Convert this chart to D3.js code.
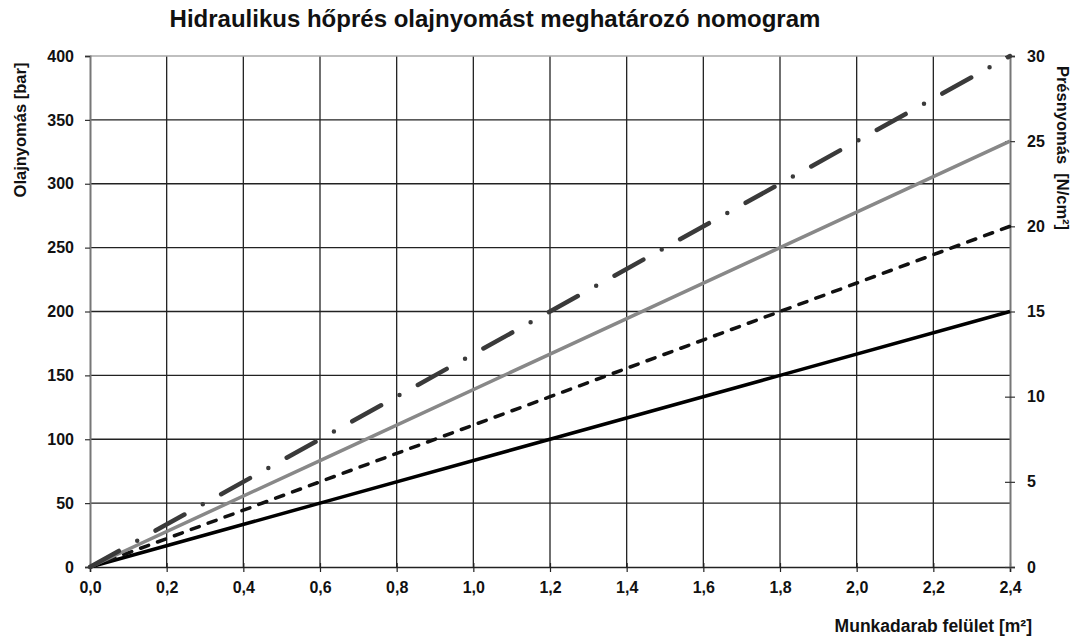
<!DOCTYPE html>
<html>
<head>
<meta charset="utf-8">
<script src="https://cdn.jsdelivr.net/npm/d3@7"></script>
<style>
  body { margin: 0; background: #fff; }
  text { font-family: "Liberation Sans", Arial, sans-serif; font-weight: bold; fill: #111; }
</style>
</head>
<body>
<div id="chart"></div>
<script>
// data
const area = [0, 0.6, 1.2, 1.8, 2.4];             // Munkadarab felület [m²]
const line15 = [0, 50, 100, 150, 200];            // 15 N/cm²
const line20 = [0, 66.7, 133.3, 200, 266.7];      // 20 N/cm²
const line25 = [0, 83.3, 166.7, 250, 333.3];      // 25 N/cm²
const line30 = [0, 100, 200, 300, 400];           // 30 N/cm²
const xTicks = [0, 0.2, 0.4, 0.6, 0.8, 1.0, 1.2, 1.4, 1.6, 1.8, 2.0, 2.2, 2.4];
const yTicks = [0, 50, 100, 150, 200, 250, 300, 350, 400];
const y2Ticks = [0, 5, 10, 15, 20, 25, 30];

const W = 1073, H = 639;
const margin = { top: 56, right: 63, bottom: 72, left: 90 };
const width = W - margin.left - margin.right;
const height = H - margin.top - margin.bottom;

const svg = d3.select('#chart').append('svg')
  .attr('width', W).attr('height', H);

const g = svg.append('g')
  .attr('transform', `translate(${margin.left},${margin.top})`);

const x = d3.scaleLinear().domain([0, 2.4]).range([0, width]);
const y = d3.scaleLinear().domain([0, 400]).range([height, 0]);
const y2 = d3.scaleLinear().domain([0, 30]).range([height, 0]);

const comma = v => d3.format('.1f')(v).replace('.', ',');

// grid
g.append('g').selectAll('line')
  .data(xTicks.filter(d => d > 0 && d < 2.4))
  .enter().append('line')
  .attr('x1', d => x(d)).attr('x2', d => x(d))
  .attr('y1', 0).attr('y2', height)
  .attr('stroke', '#222').attr('stroke-width', 1.3);

g.append('g').selectAll('line')
  .data(yTicks.filter(d => d > 0 && d < 400))
  .enter().append('line')
  .attr('x1', 0).attr('x2', width)
  .attr('y1', d => y(d)).attr('y2', d => y(d))
  .attr('stroke', '#222').attr('stroke-width', 1.3);

// top border
g.append('line')
  .attr('x1', 0).attr('x2', width).attr('y1', y(400)).attr('y2', y(400))
  .attr('stroke', '#aaa').attr('stroke-width', 1.5);

// axes
const xAxis = g.append('g')
  .attr('transform', `translate(0,${height})`)
  .call(d3.axisBottom(x).tickValues(xTicks).tickFormat(comma).tickSize(5).tickPadding(10));
xAxis.selectAll('.tick line').attr('y1', -4).attr('stroke', '#222').attr('stroke-width', 1.2);
xAxis.select('.domain').attr('stroke', '#222').attr('stroke-width', 1.5);

const yAxis = g.append('g')
  .call(d3.axisLeft(y).tickValues(yTicks).tickSize(5).tickPadding(11));
yAxis.selectAll('.tick line').attr('stroke', '#333').attr('stroke-width', 1.2);
yAxis.select('.domain').attr('stroke', '#777').attr('stroke-width', 2);

const y2Axis = g.append('g')
  .attr('transform', `translate(${width},0)`)
  .call(d3.axisRight(y2).tickValues(y2Ticks).tickSize(5).tickPadding(12));
y2Axis.selectAll('.tick line').attr('x1', -5).attr('stroke', '#333').attr('stroke-width', 1.2);
y2Axis.select('.domain').attr('stroke', '#777').attr('stroke-width', 2);

svg.selectAll('.tick text').attr('font-size', 16).attr('fill', '#111')
  .attr('font-family', '"Liberation Sans", Arial, sans-serif').attr('font-weight', 'bold');

// lines
const series = [
  { values: line15, color: '#000', w: 3.5, dash: null, cap: 'butt' },
  { values: line20, color: '#111', w: 3.5, dash: '8.5,9.5', cap: 'round' },
  { values: line25, color: '#888', w: 3.5, dash: null, cap: 'butt' },
  { values: line30, color: '#3a3a3a', w: 4.5, dash: '33,21,0,21', cap: 'round' }
];

const line = d3.line()
  .x((d, i) => x(area[i]))
  .y(d => y(d));

g.selectAll('.series')
  .data(series)
  .enter().append('path')
  .attr('class', 'series')
  .attr('d', d => line(d.values))
  .attr('fill', 'none')
  .attr('stroke', d => d.color)
  .attr('stroke-width', d => d.w)
  .attr('stroke-dasharray', d => d.dash)
  .attr('stroke-linecap', d => d.cap);

// titles
svg.append('text')
  .attr('x', 495).attr('y', 27)
  .attr('text-anchor', 'middle')
  .attr('font-size', 24)
  .text('Hidraulikus hőprés olajnyomást meghatározó nomogram');

svg.append('text')
  .attr('transform', 'translate(26,130) rotate(-90)')
  .attr('text-anchor', 'middle')
  .attr('font-size', 16.5)
  .text('Olajnyomás [bar]');

svg.append('text')
  .attr('transform', 'translate(1057,148) rotate(90)')
  .attr('text-anchor', 'middle')
  .attr('font-size', 16.5)
  .style('white-space', 'pre')
  .text('Présnyomás  [N/cm²]');

svg.append('text')
  .attr('x', 1032).attr('y', 632)
  .attr('text-anchor', 'end')
  .attr('font-size', 17.5)
  .text('Munkadarab felület [m²]');
</script>
</body>
</html>
